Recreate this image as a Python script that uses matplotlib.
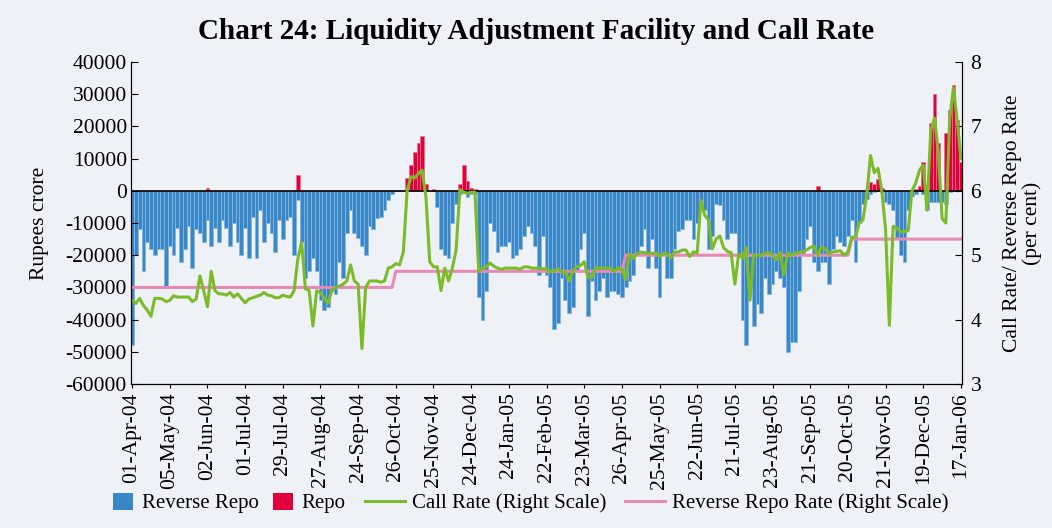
import numpy as np
import matplotlib
matplotlib.use("Agg")
import matplotlib.pyplot as plt
from matplotlib.patches import Patch
from matplotlib.lines import Line2D

# one point every second working day, ten points between date labels
TICK_LABELS = [
    "01-Apr-04", "05-May-04", "02-Jun-04", "01-Jul-04", "29-Jul-04",
    "27-Aug-04", "24-Sep-04", "26-Oct-04", "25-Nov-04", "24-Dec-04",
    "24-Jan-05", "22-Feb-05", "23-Mar-05", "26-Apr-05", "25-May-05",
    "22-Jun-05", "21-Jul-05", "23-Aug-05", "21-Sep-05", "20-Oct-05",
    "21-Nov-05", "19-Dec-05", "17-Jan-06",
]

# thousand Rupees crore (negative = absorption)
reverse_repo = [
    -48, -20, -12, -25, -16, -18, -20, -18, -18, -30,
    -17, -20, -11.5, -22, -18, -11, -24, -12, -13, -16,
    -9, -17, -11.5, -16, -9, -11.5, -17, -10, -16, -20,
    -11.5, -21, -8, -21, -6, -16, -10, -13, -19, -9,
    -15, -9, -8, -20, -3, -16, -27, -25, -21, -25,
    -34, -37, -36, -31, -32, -22, -27, -13, -6, -13,
    -14.5, -17, -20, -11, -12, -8.5, -8, -6, -3, -1,
    0, 0, 0, 0, 0, 0, 0, 0, 0, 0,
    0, -5, -18, -20, -21, -10, -4, -1, 0, -2,
    -1, -1, -33, -40, -31, -10, -12.5, -19, -17, -17,
    -16, -21, -20, -18, -14, -11, -13, -17, -26, -14,
    -26, -30, -43, -41, -27, -34, -38, -36, -25, -18,
    -13, -39, -28, -34, -31, -27, -33, -31, -31, -32,
    -33, -30, -28, -26, -19, -17, -12, -24, -15, -24,
    -33, -20, -27, -27, -18, -12.5, -12, -9, -9, -15,
    -10, -3, -6, -18, -14, -4, -4.5, -9, -15, -13,
    -13, -20, -40, -48, -31, -42, -35, -38, -27, -32,
    -29, -25, -27, -30, -50, -47, -47, -31, -20, -15,
    -11, -22, -25, -22, -22, -29, -18, -14, -16, -17,
    -14, -9, -22, -10, -4, -2.5, -1, -0.5, 0, -0.5,
    -3.6, -4, -6, -15, -20, -22, -6, -1.5, -1, 0,
    -1, -6, -3.5, -3.6, -3.5, -3.6, -4, -0.5, 0, 0,
    0,
]

repo = [
    0, 0, 0, 0, 0, 0, 0, 0, 0, 0,
    0, 0, 0, 0, 0, 0, 0, 0, 0, 0,
    0.8, 0, 0, 0, 0, 0, 0, 0, 0, 0,
    0, 0, 0, 0, 0, 0, 0, 0, 0, 0,
    0, 0, 0, 0, 5, 0, 0, 0, 0, 0,
    0, 0, 0, 0, 0, 0, 0, 0, 0, 0,
    0, 0, 0, 0, 0, 0, 0, 0, 0, 0,
    0, 0, 0, 4, 8, 12, 15, 17, 2, 0,
    0.5, 0, 0, 0, 0, 0, 0, 2, 8, 3,
    1, 0.5, 0, 0, 0, 0, 0, 0, 0, 0,
    0, 0, 0, 0, 0, 0, 0, 0, 0, 0,
    0, 0, 0, 0, 0, 0, 0, 0, 0, 0,
    0, 0, 0, 0, 0, 0, 0, 0, 0, 0,
    0, 0, 0, 0, 0, 0, 0, 0, 0, 0,
    0, 0, 0, 0, 0, 0, 0, 0, 0, 0,
    0, 0, 0, 0, 0, 0, 0, 0, 0, 0,
    0, 0, 0, 0, 0, 0, 0, 0, 0, 0,
    0, 0, 0, 0, 0, 0, 0, 0, 0, 0,
    0, 0, 1.5, 0, 0, 0, 0, 0, 0, 0,
    0, 0, 0, 0, 0, 0, 2.6, 2.2, 3.6, 1,
    0, 0, 0, 0, 0, 0, 0, 0, 0.5, 1.5,
    9, 0, 21, 30, 15, 0, 18, 25, 33, 22,
    9,
]

# per cent
call_rate = [
    4.3, 4.25, 4.33, 4.22, 4.15, 4.05, 4.33, 4.33, 4.32, 4.28,
    4.3, 4.37, 4.35, 4.35, 4.35, 4.35, 4.28, 4.32, 4.68, 4.45,
    4.2, 4.75, 4.45, 4.4, 4.4, 4.38, 4.42, 4.35, 4.4, 4.33,
    4.26, 4.32, 4.34, 4.36, 4.38, 4.42, 4.38, 4.37, 4.34, 4.34,
    4.38, 4.36, 4.35, 4.45, 4.95, 5.2, 4.48, 4.45, 3.9, 4.45,
    4.42, 4.33, 4.25, 4.45, 4.5, 4.52, 4.55, 4.6, 4.85, 4.6,
    4.55, 3.55, 4.5, 4.6, 4.6, 4.6, 4.58, 4.6, 4.8, 4.82,
    4.87, 4.85, 5.05, 6.0, 6.22, 6.2, 6.27, 6.32, 5.9, 4.9,
    4.82, 4.82, 4.45, 4.8, 4.6, 4.8, 5.08, 6.02, 5.98, 5.96,
    5.98, 5.98, 4.75, 4.8, 4.82, 4.88, 4.83, 4.8, 4.78, 4.8,
    4.8, 4.8, 4.8, 4.78, 4.82, 4.82, 4.8, 4.8, 4.8, 4.79,
    4.79, 4.74, 4.76, 4.79, 4.74, 4.74, 4.6, 4.76, 4.82, 4.84,
    4.9, 4.66, 4.65, 4.8, 4.8, 4.8, 4.8, 4.8, 4.75, 4.8,
    4.78, 4.62, 5.02, 4.95, 5.02, 5.05, 5.04, 5.03, 5.03, 5.03,
    4.98, 5.03, 5.02, 4.96, 5.05, 5.05, 5.08, 5.08, 4.98, 5.05,
    5.04, 5.85, 5.62, 5.55, 5.1, 5.25, 5.3, 5.12, 5.06, 5.04,
    4.55, 5.02, 4.95, 5.12, 4.3, 5.0, 5.0, 4.99, 5.03, 5.04,
    5.0, 4.93, 5.04, 4.7, 5.03, 5.0, 5.03, 5.04, 5.05, 5.08,
    5.12, 5.14, 5.0, 5.13, 5.1, 5.02, 5.05, 5.06, 5.07, 5.0,
    5.05, 5.28, 5.28, 5.5, 5.55, 5.93, 6.55, 6.28, 6.35, 6.0,
    5.4, 3.91, 5.45, 5.42, 5.36, 5.37, 5.38, 6.0, 6.12, 6.32,
    6.4, 5.7, 6.95, 7.13, 6.6, 5.57, 5.5, 7.1, 7.6, 7.1,
    6.5,
]

# reverse repo rate: level and the point where it took effect
rrr_levels = [4.5, 4.75, 5.0, 5.25]
rrr_start = [0, 70, 131, 191]

BLUE = "#3a87c8"
BLUE_EDGE = "#86b6df"
RED = "#e2003a"
RED_EDGE = "#f07090"
GREEN = "#7cba2a"
PINK = "#e68ab3"
BG = "#eef2f6"

plt.rcParams["font.family"] = ["Liberation Serif", "DejaVu Serif"]
plt.rcParams["axes.unicode_minus"] = False


def run() -> None:
    n = len(call_rate)
    x = np.arange(n)
    rr = np.array(reverse_repo) * 1000
    rp = np.array(repo) * 1000
    counts = np.diff(rrr_start + [n])
    rrr = np.repeat(rrr_levels, counts)

    fig = plt.figure(figsize=(10.52, 5.28), dpi=100, facecolor=BG)
    ax = fig.add_axes((0.1245, 0.2727, 0.79, 0.6098))
    ax.set_facecolor(BG)

    ax.bar(x, rr, width=1.0, color=BLUE, edgecolor=BLUE_EDGE, linewidth=0.6)
    ax.bar(x, rp, width=1.0, color=RED, edgecolor=RED_EDGE, linewidth=0.6)
    ax.axhline(0, color="black", lw=1.2, zorder=3)

    ax.set_xlim(-0.3, n - 0.7)
    ax.set_ylim(-60000, 40000)
    ax.set_yticks(np.arange(-60000, 40001, 10000))
    ax.set_xticks(np.arange(0, n, 10))
    ax.set_xticklabels(TICK_LABELS, rotation=90, fontsize=15.5)
    ax.tick_params(axis="y", direction="in", length=5, labelsize=15.5, pad=3)
    ax.tick_params(axis="x", direction="out", length=3, pad=3)
    ax.set_ylabel("Rupees crore", fontsize=15.5, labelpad=12)
    ax.spines["top"].set_visible(False)

    ax2 = ax.twinx()
    ax2.plot(x, rrr, color=PINK, lw=2.2)
    ax2.plot(x, call_rate, color=GREEN, lw=2.2)
    ax2.set_ylim(3, 8)
    ax2.set_yticks(range(3, 9))
    ax2.tick_params(axis="y", direction="in", length=5, labelsize=15.5, pad=6)
    ax2.set_ylabel("Call Rate/ Reverse Repo Rate\n(per cent)", fontsize=15.5,
                   labelpad=16, linespacing=1.0)
    ax2.spines["top"].set_visible(False)

    fig.suptitle("Chart 24: Liquidity Adjustment Facility and Call Rate",
                 fontsize=21, fontweight="bold", x=0.51, y=0.965)

    # two legends side by side: square swatches for bars, long keys for lines
    bar_handles = [
        Patch(facecolor=BLUE, label="Reverse Repo"),
        Patch(facecolor=RED, label="Repo"),
    ]
    line_handles = [
        Line2D([], [], color=GREEN, lw=2.2, label="Call Rate (Right Scale)"),
        Line2D([], [], color=PINK, lw=2.2,
               label="Reverse Repo Rate (Right Scale)"),
    ]
    leg_y = 1 - 503 / 528
    fig.legend(handles=bar_handles, loc="center left", ncol=2,
               frameon=False, bbox_to_anchor=(113 / 1052, leg_y),
               fontsize=15, handlelength=0.96, handleheight=0.9,
               handletextpad=0.43, columnspacing=0.67,
               borderpad=0, borderaxespad=0)
    fig.legend(handles=line_handles, loc="center left", ncol=2,
               frameon=False, bbox_to_anchor=(365 / 1052, leg_y),
               fontsize=15, handlelength=1.92, handletextpad=0.34,
               columnspacing=0.9, borderpad=0, borderaxespad=0)

    fig.savefig("out.png", dpi=100, facecolor=BG)
    plt.close(fig)


if __name__ == "__main__":
    run()
